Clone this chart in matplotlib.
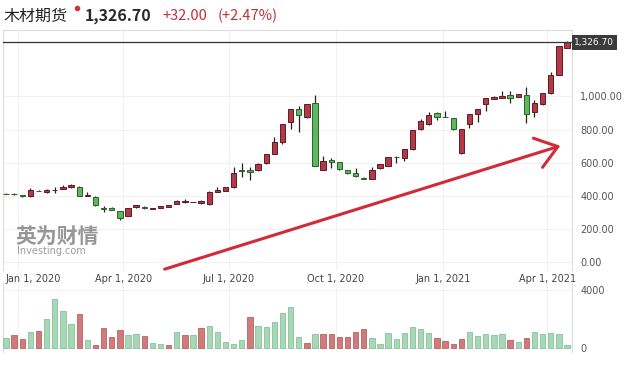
import datetime as dt

import matplotlib
matplotlib.use("Agg")
import matplotlib.pyplot as plt
import matplotlib.dates as mdates
import matplotlib.transforms as mtransforms
from matplotlib.lines import Line2D
from matplotlib.patches import FancyArrowPatch

plt.rcParams['font.family'] = ['Noto Sans CJK SC', 'DejaVu Sans']

# weekly lumber futures candles, Dec 2019 - Apr 2021
first_week = dt.date(2019, 12, 22)
n_weeks = 70
weeks = [first_week + dt.timedelta(weeks=i) for i in range(n_weeks)]

opens = [412, 410, 405, 396, 430, 420, 434, 441, 452, 455,
         400, 394, 326, 328, 308, 280, 330, 330, 322, 327,
         332, 350, 365, 362, 356, 350, 425, 429, 451, 553,
         558, 556, 596, 652, 727, 844, 922, 874, 958, 556,
         614, 604, 555, 535, 510, 501, 566, 580, 636, 626,
         680, 801, 832, 898, 876, 868, 656, 832, 892, 952,
         985, 993, 1006, 997, 1008, 904, 952, 1019, 1130, 1295]
highs = [415, 414, 407, 448, 432, 441, 451, 465, 474, 458,
         425, 396, 338, 334, 310, 326, 346, 338, 325, 340,
         347, 375, 378, 365, 372, 428, 451, 455, 572, 600,
         572, 595, 655, 753, 835, 925, 942, 952, 1008, 640,
         630, 606, 558, 566, 512, 572, 592, 634, 638, 682,
         800, 865, 904, 908, 914, 870, 803, 894, 926, 990,
         1000, 1033, 1033, 1015, 1055, 978, 1023, 1146, 1306, 1332]
lows = [408, 405, 393, 394, 426, 418, 418, 440, 450, 398,
        398, 338, 304, 312, 256, 276, 328, 322, 319, 325,
        330, 348, 358, 360, 353, 346, 422, 427, 449, 515,
        495, 552, 590, 650, 713, 801, 787, 872, 578, 554,
        566, 558, 534, 513, 500, 499, 564, 578, 598, 610,
        678, 798, 830, 858, 874, 799, 654, 807, 847, 914,
        982, 990, 962, 995, 838, 874, 950, 1017, 1128, 1290]
closes = [410, 408, 396, 435, 428, 438, 436, 455, 467, 400,
          402, 344, 322, 316, 264, 324, 344, 327, 323, 338,
          345, 370, 366, 363, 368, 425, 437, 451, 539, 550,
          545, 590, 650, 727, 832, 922, 886, 952, 580, 612,
          604, 560, 538, 518, 502, 556, 590, 632, 634, 680,
          797, 853, 888, 876, 874, 801, 801, 892, 924, 988,
          997, 1003, 990, 1012, 892, 958, 1019, 1129, 1306, 1326.7]

volumes = [667, 874, 598, 1103, 1149, 1977, 3356, 2529, 1632, 2322,
           552, 184, 1356, 782, 1218, 874, 943, 805, 322, 253,
           184, 1080, 874, 874, 1356, 1494, 1103, 391, 253, 529,
           2115, 1494, 1425, 1770, 2391, 2805, 736, 322, 943, 943,
           943, 736, 736, 1080, 1287, 667, 253, 1011, 598, 1011,
           1425, 1287, 1011, 667, 460, 253, 598, 1080, 805, 943,
           874, 943, 529, 391, 667, 1080, 943, 1011, 943, 184]
volume_dir = "grrgrggggr" "grrrrggrgg" "rgrgrggggg" "rggggggrgr" "rrrrrggggg" \
             "gggrrrrggg" "ggrgrggggg"

last_price = 1326.70
change = 32.00
change_pct = 2.47

price_ticks = [0, 200, 400, 600, 800, 1000]
volume_ticks = [0, 4000]
date_ticks = [dt.date(2020, 1, 1), dt.date(2020, 4, 1), dt.date(2020, 7, 1),
              dt.date(2020, 10, 1), dt.date(2021, 1, 1), dt.date(2021, 4, 1)]
date_labels = ["Jan 1, 2020", "Apr 1, 2020", "Jul 1, 2020",
               "Oct 1, 2020", "Jan 1, 2021", "Apr 1, 2021"]

UP_RED = "#b3394a"
UP_EDGE = "#5e1c22"
DOWN_GREEN = "#5cb85c"
DOWN_EDGE = "#2f5e2f"
GRID = "#f1f1f1"
SPINE = "#dcdcdc"

W, H = 626, 367
fig = plt.figure(figsize=(W / 100, H / 100), dpi=100)
fig.patch.set_facecolor("white")


def px_box(left, top, right, bottom):
    return [left / W, 1 - bottom / H, (right - left) / W, (bottom - top) / H]


ax = fig.add_axes(px_box(3, 30, 572, 270))
axv = fig.add_axes(px_box(3, 283, 572, 352), sharex=ax)
axv.patch.set_alpha(0)

x = mdates.date2num(weeks)
x0 = x[0]
ax.set_xlim(x0 - 2.6, x0 + 487.3)
ax.set_ylim(-48, 1401)
axv.set_ylim(-276, 4483)

body_w = 4.6
for xi, o, h, l, c in zip(x, opens, highs, lows, closes):
    up = c >= o
    ax.vlines(xi, l, h, color="#222222", lw=0.9, zorder=2)
    ax.bar(xi, max(abs(c - o), 3), bottom=min(o, c), width=body_w,
           color=UP_RED if up else DOWN_GREEN,
           edgecolor=UP_EDGE if up else DOWN_EDGE, lw=0.7, zorder=3)

vcols = ["#a8d7b6" if d == "g" else "#cf7b7b" for d in volume_dir]
vedge = ["#86c39a" if d == "g" else "#b86262" for d in volume_dir]
axv.bar(x, volumes, width=body_w, color=vcols, edgecolor=vedge, lw=0.6, zorder=3)

# last-price line and tag
ax.axhline(last_price, color="#333333", lw=0.9, zorder=4)
tag_tr = mtransforms.blended_transform_factory(ax.transAxes, ax.transData)
ax.text(1.004, last_price, f"{last_price:,.2f}", transform=tag_tr, ha="left", va="center",
        fontsize=6.5, color="white", family="DejaVu Sans",
        bbox=dict(facecolor="#3b3b3b", edgecolor="none", boxstyle="square,pad=0.3"))

for a in (ax, axv):
    a.yaxis.tick_right()
    a.tick_params(axis="y", length=0, pad=6, labelsize=7, labelcolor="#555555")
    a.tick_params(axis="x", length=0)
    a.grid(True, color=GRID, lw=0.8, zorder=0)
    a.set_axisbelow(True)
    for s in a.spines.values():
        s.set_color(SPINE)
        s.set_linewidth(0.8)

ax.spines["bottom"].set_visible(False)
axv.spines["top"].set_visible(False)
axv.spines["bottom"].set_visible(False)

ax.set_yticks(price_ticks)
ax.set_yticklabels([f"{v:,.2f}" for v in price_ticks], family="DejaVu Sans")
axv.set_yticks(volume_ticks)
axv.set_yticklabels([f"{v:d}" for v in volume_ticks], family="DejaVu Sans")

ax.set_xticks(mdates.date2num(date_ticks))
ax.set_xticklabels(date_labels, family="DejaVu Sans")
ax.tick_params(axis="x", pad=3, labelsize=7, labelcolor="#444444")
plt.setp(axv.get_xticklabels(), visible=False)
first = ax.get_xticklabels()[0]
first.set_ha("left")
first.set_transform(first.get_transform()
                    + mtransforms.ScaledTranslation(-0.126, 0, fig.dpi_scale_trans))

# header
def fx(px):
    return px / W


def fy(py):
    return 1 - py / H


fig.text(fx(3), fy(16), "木材期货", fontsize=11.5, color="#222222", va="center")
fig.add_artist(Line2D([fx(77)], [fy(8)], marker="o", ms=3, color="#d0343f",
                      transform=fig.transFigure))
fig.text(fx(85), fy(16), f"{last_price:,.2f}", fontsize=11.5, weight="bold",
         color="#2a2a2a", va="center")
fig.text(fx(162), fy(16), f"+{change:.2f}", fontsize=10.5, color="#c2303c", va="center")
fig.text(fx(218), fy(16), f"(+{change_pct:.2f}%)", fontsize=10.5, color="#c2303c", va="center")

# watermark
fig.text(fx(15), fy(236), "英为财情", fontsize=15, weight="bold", color="#858585",
         va="center", alpha=0.85)
fig.text(fx(17), fy(251), "Investing.com", fontsize=7, color="#8a8a8a",
         va="center", alpha=0.85, family="DejaVu Sans")

# hand-drawn trend arrow
arrow = FancyArrowPatch((fx(162), fy(270)), (fx(563), fy(145)),
                        transform=fig.transFigure,
                        arrowstyle="->,head_length=15,head_width=11",
                        color="#d22a36", lw=2.2, mutation_scale=1)
fig.add_artist(arrow)

fig.savefig("out.png", dpi=100)
